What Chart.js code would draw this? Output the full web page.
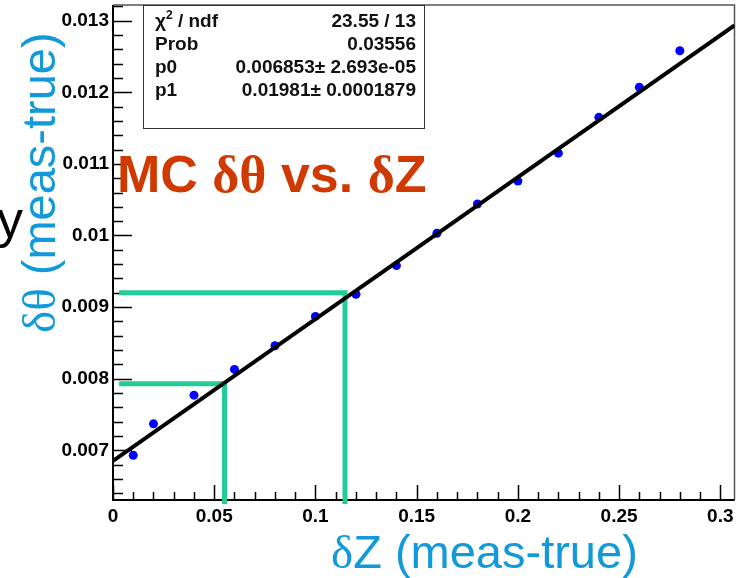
<!DOCTYPE html>
<html>
<head>
<meta charset="utf-8">
<script src="https://cdn.jsdelivr.net/npm/chart.js@4/dist/chart.umd.min.js"></script>
<style>
  body { margin: 0; background: #fff; }
  #wrap { position: relative; width: 739px; height: 578px; overflow: hidden; }
  #c { position: absolute; left: 0; top: 0; }
  .t { position: absolute; white-space: nowrap; line-height: 1; font-family: "Liberation Sans", Arial, sans-serif; }
  .g { font-family: "Liberation Serif", "Times New Roman", serif; }
  #mc { left: 117px; top: 148px; font-size: 52px; font-weight: bold; color: #d03a00; }
  #ytitle { left: 15px; top: 333px; font-size: 47px; color: #1199d9; transform-origin: 0 0; transform: rotate(-90deg); }
  #xtitle { left: 331px; top: 528px; font-size: 47px; color: #1199d9; }
  #cut { left: -3px; top: 193px; font-size: 52px; color: #000; }
  #stats { position: absolute; left: 143px; top: 5px; width: 280px; height: 122px; border: 1.5px solid #333; background: #fff; }
  .row { position: absolute; left: 155px; width: 261px; display: flex; justify-content: space-between; font-size: 19px; font-weight: bold; color: #111; }
  .row sup { font-size: 12px; vertical-align: baseline; position: relative; top: -8px; }
</style>
</head>
<body>
<div id="wrap">
  <canvas id="c" width="739" height="578"></canvas>
  <div id="stats"></div>
  <div id="mc" class="t">MC <span class="g">δθ</span> vs. <span class="g">δ</span>Z</div>
  <div id="ytitle" class="t"><span class="g">δθ</span> (meas-true)</div>
  <div id="xtitle" class="t"><span class="g">δ</span>Z (meas-true)</div>
  <div id="cut" class="t">y</div>
</div>
<script>
// measured points (dZ, dTheta)
const xVals = [0.01, 0.02, 0.04, 0.06, 0.08, 0.10, 0.12, 0.14, 0.16, 0.18, 0.20, 0.22, 0.24, 0.26, 0.28];
const yVals = [0.00693, 0.00737, 0.00777, 0.00813, 0.00846, 0.00887, 0.00918, 0.00958, 0.01003, 0.01044, 0.01076, 0.01115, 0.01165, 0.01207, 0.01258];

// pol1 fit ends
const fitX = [0, 0.307];
const fitY = [0.006853, 0.012935];

// green guide lines
const lowX = [0.003, 0.0551, 0.0551];
const lowY = [0.00793, 0.00793, 0.00625];
const highX = [0.003, 0.1146, 0.1146];
const highY = [0.00920, 0.00920, 0.00625];

const xTicks = [0, 0.05, 0.1, 0.15, 0.2, 0.25, 0.3];
const yTicks = [0.007, 0.008, 0.009, 0.01, 0.011, 0.012, 0.013];
const xRange = [0, 0.307], yRange = [0.006306, 0.013219];

const statLabels = ["χ<sup>2</sup> / ndf", "Prob", "p0", "p1"];
const statValues = ["23.55 / 13", "0.03556", "0.006853± 2.693e-05", "0.01981± 0.0001879"];

const wrap = document.getElementById('wrap');
statLabels.forEach((l, i) => {
  const r = document.createElement('div');
  r.className = 't row';
  r.style.top = (10.5 + i * 23) + 'px';
  r.innerHTML = `<span>${l}</span><span>${statValues[i]}</span>`;
  wrap.appendChild(r);
});

const pts = (xs, ys) => xs.map((x, i) => ({ x, y: ys[i] }));

// ROOT style ticks (inward, with minor ticks) + frame
const frame = {
  id: 'frame',
  beforeDatasetsDraw(chart) {
    const { ctx, chartArea: a, scales: { x, y } } = chart;
    ctx.save();
    ctx.strokeStyle = '#000'; ctx.lineWidth = 1.5;
    ctx.beginPath();
    const ys = (yTicks[1] - yTicks[0]) / 5;
    for (let i = Math.ceil((y.min - yTicks[0]) / ys - 1e-6); yTicks[0] + i * ys <= y.max + 1e-9; i++) {
      const py = Math.round(y.getPixelForValue(yTicks[0] + i * ys)) + 0.5;
      ctx.moveTo(a.left, py); ctx.lineTo(a.left + (i % 5 === 0 ? 19 : 10), py);
    }
    const xs = (xTicks[1] - xTicks[0]) / 5;
    for (let i = 0; xTicks[0] + i * xs <= x.max + 1e-9; i++) {
      const px = Math.round(x.getPixelForValue(xTicks[0] + i * xs)) + 0.5;
      ctx.moveTo(px, a.bottom); ctx.lineTo(px, a.bottom - (i % 5 === 0 ? 15 : 8));
    }
    ctx.stroke();
    ctx.strokeStyle = '#555'; ctx.lineWidth = 1.5;
    ctx.beginPath();
    ctx.moveTo(a.left, a.top); ctx.lineTo(a.right, a.top); ctx.lineTo(a.right, a.bottom);
    ctx.stroke();
    ctx.strokeStyle = '#000'; ctx.lineWidth = 2;
    ctx.beginPath();
    ctx.moveTo(a.left, a.top); ctx.lineTo(a.left, a.bottom); ctx.lineTo(a.right, a.bottom);
    ctx.stroke();
    ctx.restore();
  }
};

const tickFont = { family: '"Liberation Sans", Arial, sans-serif', size: 19, weight: 'bold' };
const noPad = s => { s.paddingTop = 0; s.paddingBottom = 0; s.paddingLeft = 0; s.paddingRight = 0; };

new Chart(document.getElementById('c'), {
  type: 'scatter',
  data: {
    datasets: [
      { data: pts(fitX, fitY), showLine: true, borderColor: '#000', borderWidth: 4, pointRadius: 0, order: 0 },
      { data: pts(xVals, yVals), pointRadius: 4.5, pointBackgroundColor: '#0000ff', pointBorderWidth: 0, order: 1 },
      { data: pts(lowX, lowY), showLine: true, borderColor: '#22cc99', borderWidth: 5, pointRadius: 0, borderJoinStyle: 'miter', clip: false, order: 2 },
      { data: pts(highX, highY), showLine: true, borderColor: '#22cc99', borderWidth: 5, pointRadius: 0, borderJoinStyle: 'miter', clip: false, order: 2 }
    ]
  },
  options: {
    responsive: false,
    animation: false,
    layout: { padding: { left: 0, top: 5, right: 3, bottom: 0 } },
    plugins: { legend: { display: false }, tooltip: { enabled: false } },
    scales: {
      x: {
        type: 'linear', min: xRange[0], max: xRange[1],
        grid: { display: false, drawTicks: false }, border: { display: false },
        afterBuildTicks: s => { s.ticks = xTicks.map(v => ({ value: v })); },
        afterFit: s => { s.height = 78; noPad(s); },
        ticks: { font: tickFont, color: '#000', padding: 5, autoSkip: false, maxRotation: 0, callback: v => String(v) }
      },
      y: {
        type: 'linear', min: yRange[0], max: yRange[1],
        grid: { display: false, drawTicks: false }, border: { display: false },
        afterBuildTicks: s => { s.ticks = yTicks.map(v => ({ value: v })); },
        afterFit: s => { s.width = 113; noPad(s); },
        ticks: { font: tickFont, color: '#000', padding: 4, autoSkip: false, callback: v => String(v) }
      }
    }
  },
  plugins: [frame]
});
</script>
</body>
</html>
